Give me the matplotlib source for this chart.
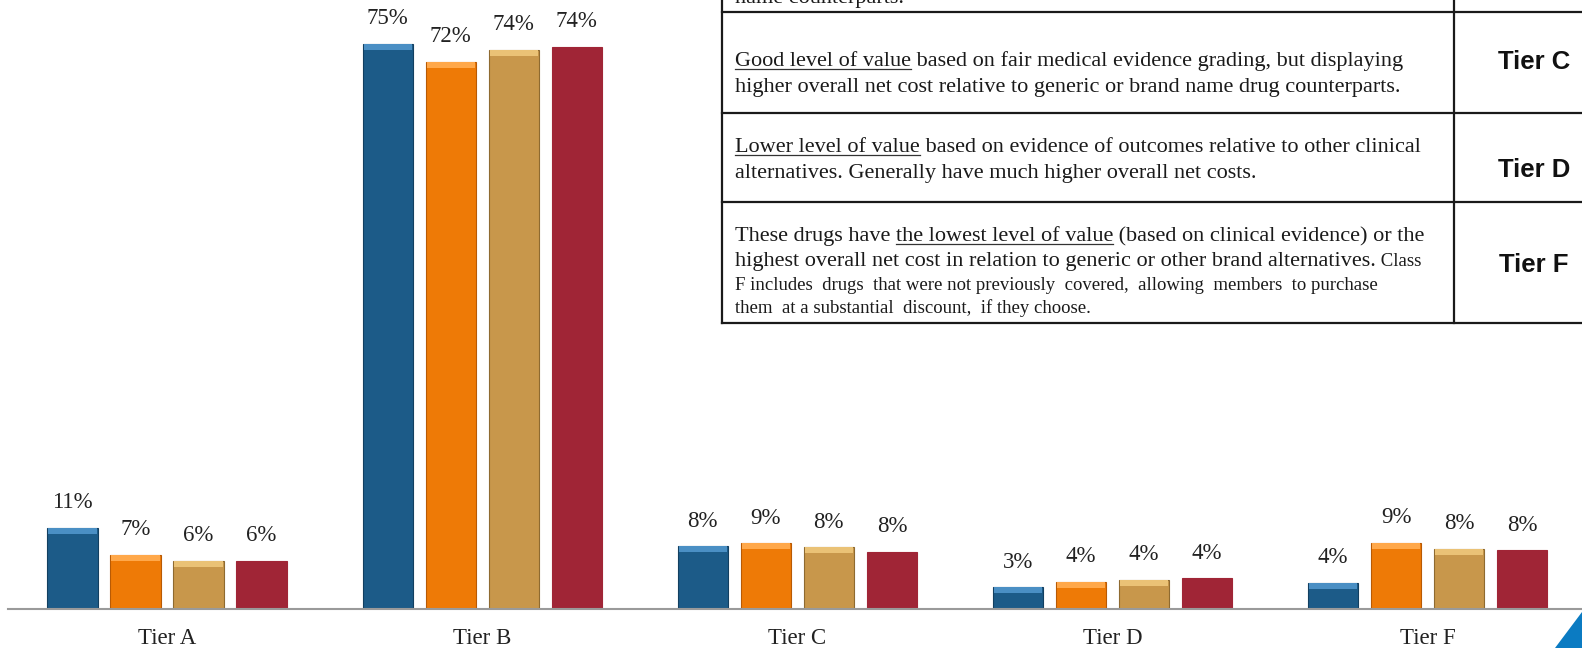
import matplotlib.pyplot as plt
import numpy as np
from matplotlib.patches import Polygon

W, H = 1582, 648

tiers = ["Tier A", "Tier B", "Tier C", "Tier D", "Tier F"]

# bar heights (percent)
series1 = [10.8, 75.0, 8.3, 2.9, 3.5]
series2 = [7.2, 72.6, 8.7, 3.6, 8.8]
series3 = [6.4, 74.2, 8.2, 3.9, 8.0]
series4 = [6.4, 74.6, 7.6, 4.1, 7.8]

# printed labels
labels1 = [11, 75, 8, 3, 4]
labels2 = [7, 72, 9, 4, 9]
labels3 = [6, 74, 8, 4, 8]
labels4 = [6, 74, 8, 4, 8]

colors = ["#1C5B88", "#EE7A06", "#C8974B", "#A02536"]
highlights = ["#4A8FC4", "#FFA84A", "#EAC276", None]
edges = ["#123F60", "#B85A04", "#8E6A30", "#A02536"]

# text of the table (underlined pieces flagged True)
row_top = [[("name counterparts.", False)]]
row_c = [[("Good level of value", True), (" based on fair medical evidence grading, but displaying", False)],
         [("higher overall net cost relative to generic or brand name drug counterparts.", False)]]
row_d = [[("Lower level of value", True), (" based on evidence of outcomes relative to other clinical", False)],
         [("alternatives. Generally have much higher overall net costs.", False)]]
row_f = [[("These drugs have ", False), ("the lowest level of value", True), (" (based on clinical evidence) or the", False)],
         [("highest overall net cost in relation to generic or other brand alternatives.", False)]]
row_f_small = ["F includes  drugs  that were not previously  covered,  allowing  members  to purchase",
               "them  at a substantial  discount,  if they choose."]
table_tiers = ["Tier C", "Tier D", "Tier F"]

fig = plt.figure(figsize=(W / 100, H / 100), dpi=100)
fig.patch.set_facecolor("white")

# ---- bar chart ----
ax = fig.add_axes([8 / W, 39 / H, 1 - 8 / W, 609 / H])
x = np.arange(len(tiers))
width = 0.16
offsets = [-0.3, -0.1, 0.1, 0.3]
all_series = [series1, series2, series3, series4]
all_labels = [labels1, labels2, labels3, labels4]
cap = 0.8
for i, (vals, labs) in enumerate(zip(all_series, all_labels)):
    pos = x + offsets[i]
    ax.bar(pos, vals, width, color=colors[i], edgecolor=edges[i], linewidth=0.8, zorder=2)
    if highlights[i]:
        vals_arr = np.array(vals)
        ax.bar(pos, np.full(len(vals), cap), width * 0.96, bottom=vals_arr - cap,
               color=highlights[i], linewidth=0, zorder=3)
    for xp, v, lab in zip(pos, vals, labs):
        ax.annotate(f"{lab}%", (xp, v), xytext=(0, 25), textcoords="offset pixels",
                    ha="center", va="center", fontsize=16.5, family="Liberation Serif", color="#222222")

ax.set_xlim(-0.505, 4.49)
ax.set_ylim(0, 80.8)
ax.set_yticks([])
ax.set_xticks(x)
ax.set_xticklabels(tiers, fontsize=16.5, family="Liberation Serif", color="#222222")
ax.tick_params(axis="x", length=0, pad=13.5)
for s in ["top", "left", "right"]:
    ax.spines[s].set_visible(False)
ax.spines["bottom"].set_color("#9A9A9A")
ax.spines["bottom"].set_linewidth(1.5)
ax.patch.set_alpha(0)

# ---- table overlay (pixel coordinates) ----
tx = fig.add_axes([0, 0, 1, 1])
tx.set_xlim(0, W)
tx.set_ylim(H, 0)
tx.axis("off")
tx.patch.set_alpha(0)

renderer = fig.canvas.get_renderer()


def draw_segments(xs, y, segments, size):
    for text, underline in segments:
        t = tx.text(xs, y, text, fontsize=size, family="Liberation Serif",
                    va="baseline", ha="left", color="#1a1a1a")
        bb = t.get_window_extent(renderer=renderer).transformed(tx.transData.inverted())
        if underline:
            tx.plot([bb.x0, bb.x1], [y + 3, y + 3], color="#333333", lw=0.9)
        xs = bb.x1
    return xs


left, divider = 722, 1454
for yl in [12, 113, 202, 323]:
    tx.plot([left, W], [yl, yl], color="#1a1a1a", lw=1.6)
tx.plot([left, left], [0, 323], color="#1a1a1a", lw=1.6)
tx.plot([divider, divider], [0, 323], color="#1a1a1a", lw=1.6)

tsize = 16
small = 13.5
draw_segments(735, 3, row_top[0], tsize)
draw_segments(735, 66, row_c[0], tsize)
draw_segments(735, 92, row_c[1], tsize)
draw_segments(735, 152, row_d[0], tsize)
draw_segments(735, 178, row_d[1], tsize)
draw_segments(735, 241, row_f[0], tsize)
end = draw_segments(735, 266, row_f[1], tsize)
draw_segments(end, 266, [(" Class", False)], small)
tx.text(735, 290, row_f_small[0], fontsize=small, family="Liberation Serif", va="baseline", color="#1a1a1a")
tx.text(735, 313, row_f_small[1], fontsize=small, family="Liberation Serif", va="baseline", color="#1a1a1a")

for lab, yc in zip(table_tiers, [62, 170, 265]):
    tx.text(1534, yc, lab, fontsize=18.5, family="Liberation Sans", weight="bold",
            ha="center", va="center", color="#111111")

# decorative corner
fig.patches.append(Polygon([[1555 / W, 0], [1.0, 36 / H], [1.0, 0]], closed=True,
                           transform=fig.transFigure, facecolor="#0B7BC2", edgecolor="none"))

fig.savefig("out.png", dpi=100)
